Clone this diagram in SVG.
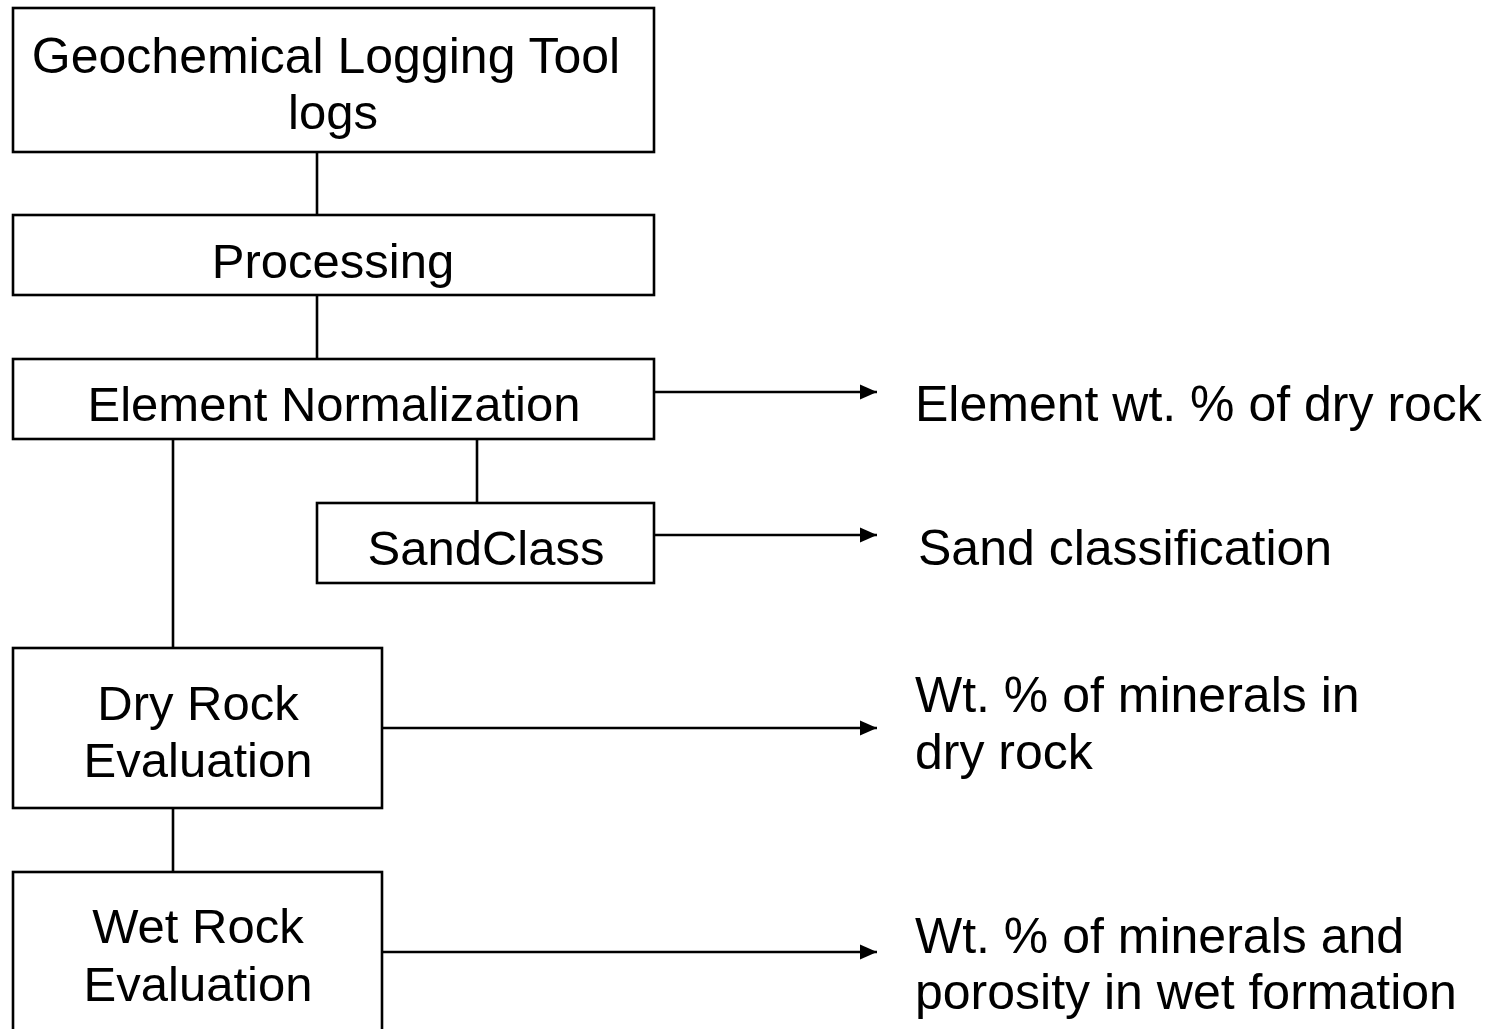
<svg xmlns="http://www.w3.org/2000/svg" width="1493" height="1029" viewBox="0 0 1493 1029">
<style>
  .box { fill: #fff; stroke: #000; stroke-width: 2.6; }
  .t { font-family: "Liberation Sans", Arial, sans-serif; font-size: 49px; fill: #000; }
  .c { text-anchor: middle; }
  .r { font-size: 50px; }
  .ln { stroke: #000; stroke-width: 2.6; fill: none; }
</style>
<defs>
  <marker id="ah" markerUnits="userSpaceOnUse" markerWidth="18" markerHeight="16" refX="17" refY="8" orient="auto">
    <path d="M0,0.5 L17,8 L0,15.5 Z" fill="#000"/>
  </marker>
</defs>
<rect width="1493" height="1029" fill="#fff"/>
<g id="connectors">
  <line class="ln" x1="317" y1="152" x2="317" y2="215"/>
  <line class="ln" x1="317" y1="295" x2="317" y2="359"/>
  <line class="ln" x1="477" y1="439" x2="477" y2="503"/>
  <line class="ln" x1="173" y1="439" x2="173" y2="648"/>
  <line class="ln" x1="173" y1="808" x2="173" y2="872"/>
  <line class="ln" x1="654" y1="392" x2="877" y2="392" marker-end="url(#ah)"/>
  <line class="ln" x1="654" y1="535" x2="877" y2="535" marker-end="url(#ah)"/>
  <line class="ln" x1="382" y1="728" x2="877" y2="728" marker-end="url(#ah)"/>
  <line class="ln" x1="382" y1="952" x2="877" y2="952" marker-end="url(#ah)"/>
</g>
<g id="node-geochemical">
  <rect class="box" x="13" y="8" width="641" height="144"/>
  <text class="t c" x="326" y="73" style="font-size:50px">Geochemical Logging Tool</text>
  <text class="t c" x="333" y="129">logs</text>
</g>
<g id="node-processing">
  <rect class="box" x="13" y="215" width="641" height="80"/>
  <text class="t c" x="333" y="278">Processing</text>
</g>
<g id="node-normalization">
  <rect class="box" x="13" y="359" width="641" height="80"/>
  <text class="t c" x="334" y="421">Element Normalization</text>
</g>
<g id="node-sandclass">
  <rect class="box" x="317" y="503" width="337" height="80"/>
  <text class="t c" x="486" y="565">SandClass</text>
</g>
<g id="node-dryrock">
  <rect class="box" x="13" y="648" width="369" height="160"/>
  <text class="t c" x="198" y="720">Dry Rock</text>
  <text class="t c" x="198" y="777">Evaluation</text>
</g>
<g id="node-wetrock">
  <rect class="box" x="13" y="872" width="369" height="180"/>
  <text class="t c" x="198" y="943">Wet Rock</text>
  <text class="t c" x="198" y="1001">Evaluation</text>
</g>
<g id="out-element">
  <text class="t r" x="915" y="421">Element wt. % of dry rock</text>
</g>
<g id="out-sand">
  <text class="t r" x="918" y="565">Sand classification</text>
</g>
<g id="out-dry">
  <text class="t r" x="915" y="712">Wt. % of minerals in</text>
  <text class="t r" x="915" y="769">dry rock</text>
</g>
<g id="out-wet">
  <text class="t r" x="915" y="953">Wt. % of minerals and</text>
  <text class="t r" x="915" y="1009">porosity in wet formation</text>
</g>
</svg>
